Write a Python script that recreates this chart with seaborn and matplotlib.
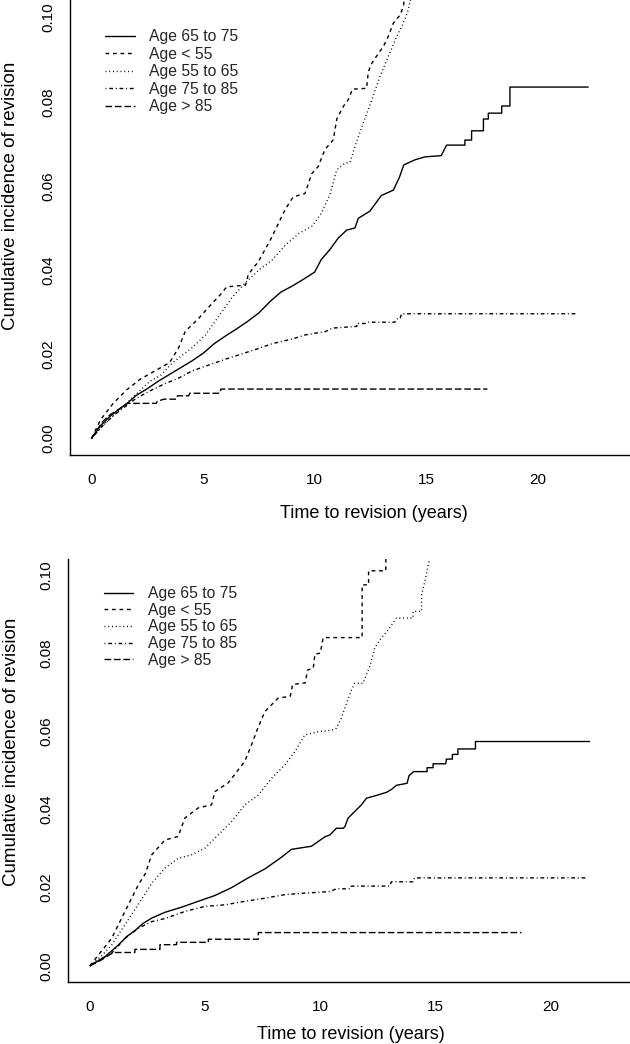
"""
Cumulative incidence of revision by age group - two panels
"""

import matplotlib
matplotlib.use('Agg')
import matplotlib.pyplot as plt
import pandas as pd
import seaborn as sns

# ===========================
# DATA (curve vertices)
# ===========================

series_labels = ['Age 65 to 75', 'Age < 55', 'Age 55 to 65', 'Age 75 to 85', 'Age > 85']
x_ticks = [0, 5, 10, 15, 20]
y_ticks = [0.00, 0.02, 0.04, 0.06, 0.08, 0.10]

# top panel
top_t_65_75 = [0, 0.4, 0.8, 1.2, 1.6, 2.0, 2.5, 3.0, 3.5, 4.0, 4.5, 5.0, 5.5, 6.0, 6.5,
               7.0, 7.5, 8.0, 8.5, 9.0, 9.5, 10.0, 10.3, 10.69, 11.06, 11.44, 11.81,
               11.96, 12.48, 12.99, 13.53, 13.8, 14.0, 14.5, 14.95, 15.68, 15.92, 16.74,
               16.74, 17.04, 17.04, 17.57, 17.57, 17.79, 17.79, 18.39, 18.39, 18.76,
               18.76, 22.27]
top_ci_65_75 = [0, 0.0030, 0.0051, 0.0068, 0.0083, 0.0102, 0.0118, 0.0136, 0.0152,
                0.0168, 0.0184, 0.0202, 0.0225, 0.0243, 0.0260, 0.0278, 0.0298, 0.0325,
                0.0348, 0.0362, 0.0378, 0.0395, 0.0425, 0.0449, 0.0476, 0.0495, 0.0500,
                0.0523, 0.0540, 0.0577, 0.0590, 0.0620, 0.0650, 0.0662, 0.0669, 0.0672,
                0.0697, 0.0697, 0.0709, 0.0709, 0.0731, 0.0731, 0.0759, 0.0759, 0.0773,
                0.0773, 0.0790, 0.0790, 0.0835, 0.0835]

top_t_lt55 = [0, 0.4, 0.97, 1.57, 2.17, 2.9, 3.5, 3.9, 4.2, 4.8, 5.2, 5.8, 6.06, 6.9,
              7.03, 7.48, 8.08, 8.67, 9.04, 9.57, 9.87, 10.16, 10.46, 10.84, 11.0, 11.3,
              11.5, 11.7, 12.33, 12.41, 12.56, 12.86, 13.08, 13.3, 13.53, 13.83, 13.98,
              14.1]
top_ci_lt55 = [0, 0.0044, 0.0083, 0.0115, 0.0140, 0.0162, 0.0180, 0.0215, 0.0254, 0.0285,
               0.0309, 0.0343, 0.0360, 0.0364, 0.0390, 0.0420, 0.0478, 0.0543, 0.0574,
               0.0582, 0.0629, 0.0646, 0.0686, 0.0710, 0.0760, 0.0790, 0.0804, 0.0830,
               0.0832, 0.0872, 0.0891, 0.0915, 0.0931, 0.0955, 0.0987, 0.1006, 0.1026,
               0.1080]

top_t_55_65 = [0, 0.5, 1.0, 1.5, 2.0, 2.6, 3.1, 3.6, 4.0, 4.5, 5.1, 5.7, 6.3, 6.9, 7.5,
               8.1, 8.7, 9.3, 9.9, 10.3, 10.69, 10.99, 11.36, 11.59, 11.81, 12.18, 12.56,
               12.93, 13.3, 13.68, 13.98, 14.2, 14.45]
top_ci_55_65 = [0, 0.0030, 0.0055, 0.0080, 0.0105, 0.0135, 0.0150, 0.0178, 0.0195, 0.0215,
                0.0245, 0.0290, 0.0335, 0.0370, 0.0400, 0.0424, 0.0460, 0.0487, 0.0505,
                0.0535, 0.0580, 0.0638, 0.0654, 0.0656, 0.0694, 0.0749, 0.0804, 0.0860,
                0.0907, 0.0955, 0.0987, 0.1018, 0.1080]

top_t_75_85 = [0, 0.5, 1.0, 1.5, 2.0, 2.7, 3.3, 3.9, 4.5, 5.3, 6.0, 6.7, 7.4, 8.1, 9.0,
               9.6, 10.5, 10.8, 11.89, 11.9, 12.34, 12.41, 13.6, 13.68, 13.83, 13.9, 21.75]
top_ci_75_85 = [0, 0.0030, 0.0055, 0.0075, 0.0095, 0.0115, 0.0130, 0.0143, 0.0160, 0.0175,
                0.0188, 0.0200, 0.0212, 0.0225, 0.0236, 0.0246, 0.0254, 0.0262, 0.0266,
                0.0273, 0.0273, 0.0276, 0.0276, 0.0284, 0.0284, 0.0296, 0.0296]

top_t_gt85 = [0, 0.5, 0.8, 1.2, 1.6, 2.9, 2.95, 3.25, 3.8, 3.85, 4.35, 4.4, 5.75, 5.8, 17.75]
top_ci_gt85 = [0, 0.0040, 0.0055, 0.0068, 0.0083, 0.0083, 0.0088, 0.0093, 0.0093, 0.0101,
               0.0101, 0.0107, 0.0107, 0.0117, 0.0117]

# bottom panel
bot_t_65_75 = [0, 0.65, 1.23, 1.6, 1.95, 2.3, 2.68, 3.26, 3.98, 4.7, 5.43, 6.15, 6.87,
               7.6, 8.32, 8.75, 9.62, 9.91, 10.2, 10.42, 10.7, 11.0, 11.07, 11.21, 11.5,
               11.79, 12.01, 12.44, 12.88, 13.11, 13.31, 13.77, 13.86, 14.06, 14.64, 14.64,
               14.9, 14.9, 15.45, 15.48, 15.74, 15.74, 15.98, 15.98, 16.74, 16.74, 21.7]
bot_ci_65_75 = [0, 0.0023, 0.0053, 0.0075, 0.0090, 0.0108, 0.0122, 0.0137, 0.0150, 0.0165,
                0.0180, 0.0200, 0.0225, 0.0248, 0.0278, 0.0298, 0.0306, 0.0318, 0.0330,
                0.0335, 0.0352, 0.0352, 0.0356, 0.0378, 0.0395, 0.0412, 0.0429, 0.0436,
                0.0444, 0.0452, 0.0462, 0.0467, 0.0487, 0.0497, 0.0497, 0.0507, 0.0507,
                0.0517, 0.0517, 0.0529, 0.0529, 0.0541, 0.0541, 0.0555, 0.0555, 0.0574,
                0.0574]

bot_t_lt55 = [0, 0.36, 0.94, 1.52, 2.1, 2.4, 2.68, 3.26, 3.83, 4.12, 4.7, 5.28, 5.43, 6.0,
              6.29, 6.73, 7.02, 7.3, 7.6, 8.17, 8.7, 8.8, 9.35, 9.45, 9.7, 9.77, 10.0,
              10.13, 11.82, 11.82, 12.1, 12.1, 12.85, 12.85]
bot_ci_lt55 = [0, 0.0027, 0.0070, 0.0139, 0.0207, 0.0235, 0.0284, 0.0322, 0.0331, 0.0378,
               0.0404, 0.0412, 0.0446, 0.0468, 0.0490, 0.0524, 0.0566, 0.0610, 0.0651,
               0.0685, 0.0690, 0.0720, 0.0724, 0.0757, 0.0762, 0.0798, 0.0800, 0.0840,
               0.0840, 0.0975, 0.0975, 0.1011, 0.1011, 0.1080]

bot_t_55_65 = [0, 0.5, 0.94, 1.52, 2.1, 2.68, 3.26, 3.83, 4.41, 4.99, 5.57, 6.15, 6.73,
               7.31, 7.89, 8.46, 8.9, 9.33, 9.91, 10.49, 10.7, 10.92, 11.07, 11.36, 11.5,
               11.86, 12.15, 12.37, 12.59, 12.95, 13.31, 14.03, 14.03, 14.4, 14.4, 14.54,
               14.69, 14.9]
bot_ci_55_65 = [0, 0.0025, 0.0053, 0.0105, 0.0157, 0.0211, 0.0250, 0.0275, 0.0284, 0.0301,
                0.0335, 0.0369, 0.0412, 0.0437, 0.0480, 0.0514, 0.0548, 0.0591, 0.0599,
                0.0603, 0.0608, 0.0634, 0.0660, 0.0706, 0.0723, 0.0723, 0.0766, 0.0814,
                0.0834, 0.0860, 0.0890, 0.0890, 0.0907, 0.0907, 0.0949, 0.0983, 0.1026,
                0.1080]

bot_t_75_85 = [0, 0.5, 0.94, 1.52, 2.1, 2.68, 3.26, 4.12, 4.99, 5.86, 6.73, 7.6, 8.46,
               9.33, 9.91, 10.42, 10.7, 11.3, 11.36, 13.02, 13.09, 14.03, 14.1, 21.63]
bot_ci_75_85 = [0, 0.0018, 0.0032, 0.0070, 0.0096, 0.0113, 0.0121, 0.0139, 0.0152, 0.0156,
                0.0165, 0.0173, 0.0182, 0.0186, 0.0188, 0.0190, 0.0197, 0.0197, 0.0204,
                0.0204, 0.0215, 0.0215, 0.0225, 0.0225]

bot_t_gt85 = [0, 0.5, 0.9, 1.09, 1.95, 1.95, 3.04, 3.04, 3.76, 3.76, 5.14, 5.14, 7.31,
              7.31, 18.74]
bot_ci_gt85 = [0, 0.0015, 0.0030, 0.0034, 0.0034, 0.0042, 0.0042, 0.0054, 0.0054, 0.0060,
               0.0060, 0.0068, 0.0068, 0.0085, 0.0085]

# R-like line types: solid, dashed, dotted, dotdash, longdash
line_styles = ['-', (0, (2.7, 2.7)), (0, (0.7, 2.0)), (0, (0.7, 2.0, 2.7, 2.0)), (0, (4.8, 2.0))]

# ===========================
# STYLE
# ===========================
sns.set_style('white')
plt.rcParams['font.family'] = ['Liberation Sans', 'DejaVu Sans']


def draw_panel(ax, curves, xlim, ylim, legend_anchor, legend_spacing, ylabel_xy, xlabel_xy):
    for (t, ci), label, ls in zip(curves, series_labels, line_styles):
        df = pd.DataFrame({'time': t, 'ci': ci})
        sns.lineplot(data=df, x='time', y='ci', ax=ax, color='black', linewidth=1.0,
                     linestyle=ls, estimator=None, sort=False, label=label)

    ax.set_xlim(*xlim)
    ax.set_ylim(*ylim)
    ax.set_xticks(x_ticks)
    ax.set_xticklabels([str(v) for v in x_ticks])
    ax.set_yticks(y_ticks)
    ax.set_yticklabels([f'{v:.2f}' for v in y_ticks], rotation=90, va='center')

    for side in ['top', 'right']:
        ax.spines[side].set_visible(False)
    for side in ['left', 'bottom']:
        ax.spines[side].set_color('black')
        ax.spines[side].set_linewidth(1.0)

    ax.tick_params(axis='both', direction='out', length=5.5, width=0.9,
                   color='black', labelsize=11, labelcolor='black')
    ax.tick_params(axis='x', pad=7.5)
    ax.tick_params(axis='y', pad=5)

    ax.set_xlabel('Time to revision (years)', fontsize=13, color='black')
    ax.set_ylabel('Cumulative incidence of revision', fontsize=13.5, color='black')
    ax.xaxis.set_label_coords(*xlabel_xy)
    ax.yaxis.set_label_coords(*ylabel_xy)

    ax.legend(loc='upper left', bbox_to_anchor=legend_anchor, frameon=False,
              fontsize=11.3, handlelength=1.9, handletextpad=0.9,
              labelspacing=legend_spacing, borderpad=0, borderaxespad=0)


fig = plt.figure(figsize=(6.3, 10.44), dpi=100)
fig.patch.set_facecolor('white')

ax_top = fig.add_axes([0.1116, 0.5642, 0.8865, 0.4358])
ax_bot = fig.add_axes([0.1084, 0.0592, 0.8897, 0.4053])

top_curves = [(top_t_65_75, top_ci_65_75), (top_t_lt55, top_ci_lt55),
              (top_t_55_65, top_ci_55_65), (top_t_75_85, top_ci_75_85),
              (top_t_gt85, top_ci_gt85)]
bot_curves = [(bot_t_65_75, bot_ci_65_75), (bot_t_lt55, bot_ci_lt55),
              (bot_t_55_65, bot_ci_55_65), (bot_t_75_85, bot_ci_75_85),
              (bot_t_gt85, bot_ci_gt85)]

draw_panel(ax_top, top_curves, (-0.955, 24.09), (-0.00397, 0.1042),
           (0.062, 0.936), 0.16, (-0.092, 0.569), (0.543, -0.109))
draw_panel(ax_bot, bot_curves, (-0.94, 23.4), (-0.0042, 0.1041),
           (0.063, 0.9356), 0.1, (-0.086, 0.545), (0.505, -0.1026))

fig.savefig('out.png', dpi=100)
print("Saved: out.png")
